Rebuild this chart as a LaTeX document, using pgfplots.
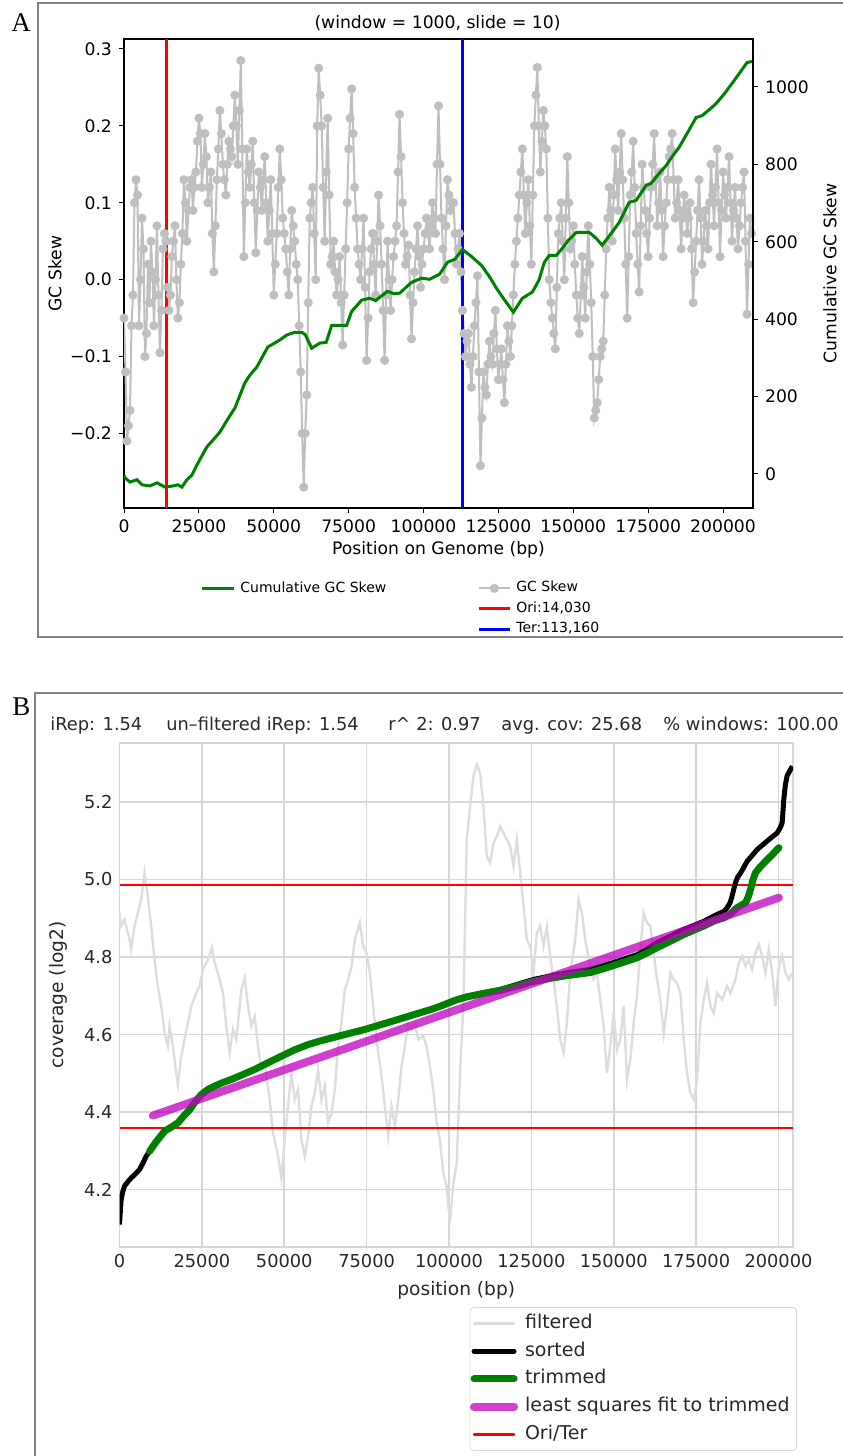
\documentclass[border=0pt]{standalone}
\usepackage{fontspec}
\setmainfont{DejaVu Sans}
\newfontfamily\panelfont{Liberation Serif}
\usepackage{pgfplots}
\usepackage{pgfplotstable}
\pgfplotsset{compat=1.18}

\definecolor{skewgray}{RGB}{191,191,191}
\definecolor{cumgreen}{RGB}{0,128,0}
\definecolor{filtgray}{RGB}{221,221,221}
\definecolor{fitmag}{RGB}{191,0,191}
\definecolor{boxgray}{RGB}{130,130,130}
\definecolor{gridgray}{RGB}{215,215,215}
\definecolor{txtgray}{RGB}{40,40,40}

% GC skew per window (bp, skew)
\pgfplotstableread{
x y
0 -0.05
500 -0.12
1000 -0.21
1500 -0.19
2000 -0.17
2500 -0.06
3000 -0.02
3500 0.10
4000 0.13
4500 0.11
5000 -0.06
5500 0.00
6000 0.08
6500 0.04
7000 -0.10
7500 -0.07
8000 0.02
8500 -0.03
9000 0.05
9500 0.01
10000 -0.06
10500 0.00
11000 0.07
11500 -0.02
12000 -0.095
12500 -0.04
13000 0.04
13500 0.06
14000 0.05
14500 -0.01
15000 -0.04
15500 -0.02
16000 0.03
16500 0.05
17000 0.07
17500 0.00
18000 -0.05
18500 -0.03
19000 0.02
19500 0.06
20000 0.13
20500 0.10
21000 0.05
21500 0.09
22000 0.12
22500 0.13
23000 0.09
23500 0.12
24000 0.14
24500 0.18
25000 0.21
25500 0.19
26000 0.12
26500 0.15
27000 0.19
27500 0.16
28000 0.10
28500 0.12
29000 0.14
29500 0.06
30000 0.01
30500 0.07
31000 0.13
31500 0.17
32000 0.22
32500 0.19
33000 0.15
33500 0.13
34000 0.11
34500 0.15
35000 0.18
35500 0.17
36000 0.16
36500 0.20
37000 0.24
37500 0.20
38000 0.15
38500 0.22
39000 0.285
39500 0.17
40000 0.03
40500 0.10
41000 0.17
41500 0.14
42000 0.12
42500 0.15
43000 0.18
43500 0.10
44000 0.035
44500 0.09
45000 0.14
45500 0.12
46000 0.09
46500 0.13
47000 0.16
47500 0.10
48000 0.05
48500 0.09
49000 0.13
49500 0.06
50000 -0.02
50500 0.02
51000 0.06
51500 0.12
52000 0.17
52500 0.13
53000 0.08
53500 0.06
54000 0.04
54500 0.01
55000 -0.02
55500 0.04
56000 0.09
56500 0.07
57000 0.05
57500 0.02
58000 0.00
58500 -0.06
59000 -0.12
59500 -0.20
60000 -0.27
60500 -0.20
61000 -0.15
61500 -0.03
62000 0.08
62500 0.10
63000 0.12
63500 0.06
64000 0.00
64500 0.20
65000 0.275
65500 0.24
66000 0.20
66500 0.12
67000 0.05
67500 0.14
68000 0.21
68500 0.11
69000 0.02
69500 0.03
70000 0.05
70500 0.01
71000 -0.02
71500 0.00
72000 0.03
72500 -0.03
73000 -0.085
73500 -0.02
74000 0.04
74500 0.10
75000 0.17
75500 0.21
76000 0.248
76500 0.19
77000 0.12
77500 0.08
78000 0.04
78500 0.02
79000 0.00
79500 0.04
80000 0.08
80500 -0.01
81000 -0.105
81500 -0.05
82000 0.01
82500 0.04
83000 0.06
83500 0.02
84000 -0.02
84500 0.05
85000 0.11
85500 0.07
86000 0.02
86500 -0.04
87000 -0.105
87500 -0.02
88000 0.05
88500 0.00
89000 -0.04
89500 0.00
90000 0.03
90500 0.05
91000 0.07
91500 0.14
92000 0.215
92500 0.16
93000 0.10
93500 0.06
94000 0.02
94500 0.03
95000 0.045
95500 -0.02
96000 -0.077
96500 -0.03
97000 0.01
97500 0.04
98000 0.07
98500 0.03
99000 -0.01
99500 0.02
100000 0.04
100500 0.06
101000 0.08
101500 0.06
102000 0.04
102500 0.07
103000 0.10
103500 0.08
104000 0.06
104500 0.15
105000 0.226
105500 0.15
106000 0.08
106500 0.04
107000 0.00
107500 0.07
108000 0.13
108500 0.11
109000 0.09
109500 0.10
110000 0.10
110500 0.06
111000 0.02
111500 0.04
112000 0.06
112500 0.01
113000 -0.04
113500 -0.07
114000 -0.10
114500 -0.08
115000 -0.07
115500 -0.11
116000 -0.14
116500 -0.10
117000 -0.06
117500 -0.03
118000 0.005
118500 -0.12
119000 -0.242
119500 -0.18
120000 -0.12
120500 -0.14
121000 -0.15
121500 -0.11
122000 -0.08
122500 -0.10
123000 -0.11
123500 -0.07
124000 -0.04
124500 -0.09
125000 -0.13
125500 -0.11
126000 -0.09
126500 -0.13
127000 -0.16
127500 -0.11
128000 -0.06
128500 -0.08
129000 -0.10
129500 -0.06
130000 -0.02
130500 0.02
131000 0.05
131500 0.08
132000 0.11
132500 0.14
133000 0.17
133500 0.11
134000 0.06
134500 0.10
135000 0.13
135500 0.07
136000 0.02
136500 0.11
137000 0.20
137500 0.24
138000 0.276
138500 0.20
139000 0.14
139500 0.18
140000 0.22
140500 0.20
141000 0.17
141500 0.08
142000 0.00
142500 -0.03
143000 -0.05
143500 -0.07
144000 -0.09
144500 -0.01
145000 0.06
145500 0.08
146000 0.10
146500 0.05
147000 0.00
147500 0.08
148000 0.16
148500 0.10
149000 0.04
149500 0.05
150000 0.07
150500 0.02
151000 -0.02
151500 -0.05
152000 -0.07
152500 -0.02
153000 0.03
153500 -0.01
154000 -0.05
154500 0.01
155000 0.07
155500 0.02
156000 -0.03
156500 -0.10
157000 -0.18
157500 -0.17
158000 -0.16
158500 -0.13
159000 -0.10
159500 -0.09
160000 -0.08
160500 -0.02
161000 0.04
161500 0.08
162000 0.12
162500 0.09
163000 0.05
163500 0.11
164000 0.17
164500 0.13
165000 0.09
165500 0.14
166000 0.19
166500 0.13
167000 0.08
167500 0.02
168000 -0.05
168500 0.03
169000 0.11
169500 0.14
170000 0.18
170500 0.12
171000 0.06
171500 0.02
172000 -0.016
172500 0.07
173000 0.15
173500 0.12
174000 0.09
174500 0.06
175000 0.03
175500 0.08
176000 0.12
176500 0.15
177000 0.19
177500 0.13
178000 0.07
178500 0.10
179000 0.14
179500 0.09
180000 0.03
180500 0.07
181000 0.10
181500 0.13
182000 0.16
182500 0.17
183000 0.19
183500 0.13
184000 0.08
184500 0.10
185000 0.13
185500 0.09
186000 0.04
186500 0.08
187000 0.11
187500 0.09
188000 0.06
188500 0.08
189000 0.10
189500 0.04
190000 -0.03
190500 0.01
191000 0.05
191500 0.09
192000 0.13
192500 0.08
193000 0.02
193500 0.05
194000 0.09
194500 0.07
195000 0.04
195500 0.10
196000 0.15
196500 0.11
197000 0.07
197500 0.12
198000 0.17
198500 0.10
199000 0.03
199500 0.09
200000 0.14
200500 0.11
201000 0.08
201500 0.12
202000 0.16
202500 0.10
203000 0.05
203500 0.09
204000 0.12
204500 0.08
205000 0.04
205500 0.07
206000 0.10
206500 0.12
207000 0.14
207500 0.05
208000 -0.045
208500 0.02
209000 0.08
209500 0.06
}\gcskew

% cumulative GC skew
\pgfplotstableread{
x y
0 -3
333 -10
2000 -21
4333 -15
6000 -28
8667 -31
11000 -23
13667 -34
16333 -31
18000 -28
19333 -34
21000 -15
22667 -3
24333 23
27667 70
30000 90
32000 108
34500 140
37000 170
40333 235
42000 255
44333 276
48000 328
52000 346
54333 359
57000 366
59333 366
60500 360
62667 325
65333 338
67500 340
69333 384
72000 384
74333 384
76000 420
79333 449
82000 454
84000 448
88000 472
90000 466
92000 467
96000 495
99333 506
102000 503
105333 516
108000 547
110500 555
113000 580
116000 562
119333 539
122000 510
124333 480
127000 450
130000 418
133000 454
136333 470
138500 500
140333 547
142000 565
144333 565
146000 580
148500 605
151000 624
155333 624
157500 610
159667 591
162500 620
165333 650
168667 702
171000 707
174333 746
176000 751
178500 775
181000 797
183000 820
185333 844
188000 880
191000 921
193000 926
195500 942
197667 957
200500 983
203000 1009
205500 1036
208000 1063
209667 1066
}\cumskew

% filtered coverage
\pgfplotstableread{
x y
0 4.914
507 4.880
1520 4.897
3040 4.845
3546 4.819
4560 4.880
5572 4.914
6585 4.948
7598 5.017
8611 4.957
9624 4.880
10637 4.793
11650 4.725
12663 4.673
13676 4.604
14689 4.570
15195 4.621
16208 4.570
17221 4.501
17728 4.471
18741 4.544
19754 4.587
20767 4.630
21780 4.673
23300 4.707
24312 4.725
25325 4.768
26845 4.793
28060 4.824
28871 4.785
29884 4.759
31403 4.707
32416 4.621
33429 4.553
34442 4.613
35455 4.587
36975 4.716
37988 4.746
39001 4.673
40014 4.621
41027 4.647
42040 4.570
43053 4.510
44066 4.527
45585 4.432
46598 4.346
48118 4.286
49131 4.230
50144 4.329
51157 4.415
52170 4.501
53183 4.432
54196 4.458
55209 4.329
56222 4.286
57235 4.338
58248 4.415
59261 4.449
60274 4.510
61287 4.432
62300 4.467
63313 4.372
64326 4.398
65339 4.458
66352 4.570
67365 4.630
68378 4.716
69391 4.742
70404 4.776
71417 4.845
72936 4.888
73949 4.828
74962 4.811
75975 4.759
76988 4.673
78001 4.587
79521 4.492
80534 4.415
81547 4.338
82560 4.415
83573 4.363
84586 4.432
85599 4.518
86612 4.570
87625 4.630
88638 4.613
89651 4.630
90664 4.587
92183 4.596
93196 4.570
94209 4.518
95222 4.458
96235 4.372
97248 4.329
98261 4.243
99274 4.209
100287 4.115
101333 4.217
102346 4.269
103359 4.501
104372 4.673
105385 5.103
106398 5.189
107411 5.266
108424 5.297
109437 5.275
110450 5.189
111463 5.060
112476 5.043
113489 5.094
114502 5.112
115515 5.137
116528 5.120
117541 5.103
118554 5.086
119567 5.034
120580 5.103
121593 5.017
122606 4.931
123619 4.845
124632 4.828
125645 4.759
126658 4.862
127671 4.880
128684 4.828
129697 4.880
130710 4.802
131723 4.742
132736 4.673
133749 4.587
134762 4.553
135775 4.630
136788 4.759
138308 4.845
139321 4.948
140334 4.914
141347 4.845
142866 4.776
143879 4.742
144892 4.759
145905 4.690
146918 4.621
147931 4.501
148944 4.570
149957 4.656
150970 4.561
151983 4.587
152996 4.673
154009 4.484
155022 4.535
156035 4.630
157048 4.699
158061 4.819
159074 4.914
160087 4.888
161100 4.880
162113 4.811
163126 4.742
164139 4.690
165152 4.604
166165 4.673
167178 4.759
168191 4.742
169204 4.733
170217 4.707
171230 4.587
172243 4.501
173256 4.449
174269 4.432
175282 4.484
176295 4.630
177308 4.690
178321 4.733
179334 4.673
180347 4.656
181360 4.707
182880 4.690
184399 4.725
185412 4.707
186932 4.742
187945 4.785
188958 4.802
189971 4.776
190984 4.793
191997 4.768
193010 4.811
194023 4.832
195036 4.802
196049 4.759
197062 4.819
198075 4.759
199088 4.673
200101 4.776
201114 4.802
202127 4.759
203140 4.742
204153 4.759
}\filtered

% sorted coverage
\pgfplotstableread{
x y
0 4.110
300 4.150
500 4.174
1000 4.195
1520 4.209
2500 4.220
3545 4.230
4800 4.240
6080 4.252
7100 4.268
8100 4.286
9120 4.299
11000 4.322
13700 4.351
15500 4.360
17700 4.372
19500 4.390
21300 4.406
23000 4.427
24800 4.445
26800 4.458
28900 4.467
31300 4.476
33900 4.484
37500 4.497
41000 4.510
45000 4.527
49100 4.544
53000 4.560
57200 4.574
60700 4.583
64300 4.591
69300 4.602
74400 4.613
79500 4.626
84600 4.639
89600 4.652
94700 4.665
98300 4.678
101800 4.690
105400 4.699
110500 4.708
115500 4.716
120500 4.729
125600 4.742
130700 4.751
135800 4.759
142900 4.768
147000 4.778
151000 4.789
157050 4.806
160000 4.820
163100 4.837
167000 4.853
171200 4.871
177300 4.892
181400 4.910
183500 4.918
184400 4.927
185300 4.940
185900 4.957
186900 4.991
187600 5.006
188500 5.017
190500 5.047
193500 5.077
197100 5.103
199600 5.120
200600 5.135
201100 5.146
201400 5.180
201600 5.206
202100 5.245
202600 5.267
203400 5.280
204200 5.292
}\sorted

% trimmed coverage
\pgfplotstableread{
x y
9120 4.299
11000 4.322
13700 4.351
15500 4.360
17700 4.372
19500 4.390
21300 4.406
23000 4.427
24800 4.445
26800 4.458
28900 4.467
31300 4.476
33900 4.484
37500 4.497
41000 4.510
45000 4.527
49100 4.544
53000 4.560
57200 4.574
60700 4.583
64300 4.591
69300 4.602
74400 4.613
79500 4.626
84600 4.639
89600 4.652
94700 4.665
98300 4.676
101800 4.688
105400 4.697
110500 4.706
115500 4.714
120500 4.725
125600 4.737
130700 4.745
135800 4.752
142900 4.760
147000 4.770
151000 4.781
157050 4.798
160000 4.810
163100 4.824
167000 4.840
171200 4.858
177300 4.880
181000 4.895
183400 4.901
185500 4.912
187400 4.927
189000 4.935
190000 4.940
190800 4.955
191500 4.974
192200 4.998
193000 5.017
194500 5.033
196100 5.047
198000 5.063
200100 5.082
}\trimmed

\begin{document}
\begin{tikzpicture}
\useasboundingbox (0pt,0pt) rectangle (421pt,728pt);
\draw[boxgray, line width=0.8pt] (19pt,409.5pt) rectangle (440pt,726.5pt);
\draw[boxgray, line width=0.8pt] (17.5pt,-10pt) rectangle (440pt,381.5pt);
\node[anchor=base west, inner sep=0pt, font=\panelfont\fontsize{13.5}{14}\selectfont] at (5.5pt,712pt) {A};
\node[anchor=base west, inner sep=0pt, font=\panelfont\fontsize{13.5}{14}\selectfont] at (6pt,370pt) {B};

% ---- panel A ----
\begin{axis}[
  at={(62pt,474pt)}, anchor=south west,
  width=314.5pt, height=234.5pt, scale only axis,
  xmin=0, xmax=210000, ymin=-0.297, ymax=0.313,
  xtick={0,25000,...,200000},
  ytick={-0.2,-0.1,0,0.1,0.2,0.3},
  yticklabels={−0.2,−0.1,0.0,0.1,0.2,0.3},
  xtick pos=bottom, ytick pos=left,
  tick align=outside, major tick length=2.5pt,
  every tick/.style={black, line width=0.5pt},
  axis line style={black, line width=0.6pt},
  scaled x ticks=false,
  /pgf/number format/fixed,
  /pgf/number format/1000 sep={},
  /pgf/number format/assume math mode=true,
  ticklabel style={font=\fontsize{8.6}{10}\selectfont},
  label style={font=\fontsize{8.6}{10}\selectfont},
  xlabel={Position on Genome (bp)},
  ylabel={GC Skew},
  xlabel style={at={(axis description cs:0.5,-0.0896)}, anchor=center},
  ylabel style={at={(axis description cs:-0.1097,0.5)}, anchor=center},
  legend style={at={(0.5612,-0.2151)}, anchor=west, draw=none, fill=none,
    inner sep=0pt, font=\fontsize{7}{8}\selectfont,
    nodes={inner xsep=2.5pt, inner ysep=0pt, text height=5pt, text depth=1.5pt},
    row sep=3.75pt},
  legend cell align=left,
  legend image code/.code={\draw[#1, mark repeat=2, mark phase=2] plot coordinates {(0pt,0pt) (7.75pt,0pt) (15.5pt,0pt)};},
]
\addplot[skewgray, line width=1pt, mark=*, mark size=1.75pt, mark options={fill=skewgray, draw=skewgray}] table {\gcskew};
\addlegendentry{GC Skew}
\addplot[red, line width=1.5pt] coordinates {(14030,-0.297) (14030,0.313)};
\addlegendentry{Ori:14,030}
\addplot[blue, line width=1.5pt] coordinates {(113160,-0.297) (113160,0.313)};
\addlegendentry{Ter:113,160}
\end{axis}

\begin{axis}[
  at={(62pt,474pt)}, anchor=south west,
  width=314.5pt, height=234.5pt, scale only axis,
  xmin=0, xmax=210000, ymin=-88, ymax=1124,
  axis x line=none, axis y line*=right,
  ytick={0,200,400,600,800,1000},
  tick align=outside, major tick length=2.5pt,
  every tick/.style={black, line width=0.5pt},
  axis line style={black, line width=0.6pt},
  /pgf/number format/fixed,
  /pgf/number format/1000 sep={},
  /pgf/number format/assume math mode=true,
  ticklabel style={font=\fontsize{8.6}{10}\selectfont},
  label style={font=\fontsize{8.6}{10}\selectfont},
  ylabel={Cumulative GC Skew},
  ylabel style={at={(axis description cs:1.1224,0.5)}, anchor=center},
  legend style={at={(0.1208,-0.1724)}, anchor=west, draw=none, fill=none,
    inner sep=0pt, font=\fontsize{7}{8}\selectfont,
    nodes={inner xsep=2.5pt, inner ysep=0pt, text height=5pt, text depth=1.5pt}},
  legend cell align=left,
  legend image code/.code={\draw[#1] (0pt,0pt) -- (16pt,0pt);},
]
\addplot[cumgreen, line width=1.5pt] table {\cumskew};
\addlegendentry{Cumulative GC Skew}
\end{axis}
\node[anchor=base, inner sep=0pt, font=\fontsize{8.6}{10}\selectfont] at (218.75pt,713.5pt) {(window = 1000, slide = 10)};

% ---- panel B ----
\begin{axis}[
  at={(59.75pt,104.5pt)}, anchor=south west,
  width=336.75pt, height=252pt, scale only axis,
  xmin=0, xmax=204400, ymin=4.052, ymax=5.352,
  xtick={0,25000,...,200000},
  ytick={4.2,4.4,4.6,4.8,5.0,5.2},
  grid=major, major grid style={gridgray, line width=0.8pt},
  axis line style={gridgray, line width=0.8pt},
  major tick length=0pt,
  scaled x ticks=false,
  /pgf/number format/fixed,
  /pgf/number format/1000 sep={},
  /pgf/number format/assume math mode=true,
  yticklabel style={/pgf/number format/.cd, fixed, fixed zerofill, precision=1},
  ticklabel style={font=\fontsize{8.9}{10}\selectfont, text=txtgray},
  label style={font=\fontsize{9.3}{11}\selectfont, text=txtgray},
  xlabel={position (bp)},
  ylabel={coverage (log2)},
  xlabel style={at={(axis description cs:0.5,-0.0853)}, anchor=center},
  ylabel style={at={(axis description cs:-0.0913,0.5)}, anchor=center},
  legend style={at={(1.0059,-0.119)}, anchor=north east, draw=gridgray, fill=white,
    rounded corners=2pt, inner xsep=0pt, inner ysep=3.5pt,
    font=\fontsize{9.5}{11}\selectfont, text=txtgray,
    nodes={inner xsep=3.5pt, inner ysep=0pt, text height=7pt, text depth=2pt},
    row sep=4.9pt},
  legend cell align=left,
  legend image code/.code={\draw[#1, line cap=round] (0pt,0pt) -- (20pt,0pt);},
]
\addplot[filtgray, line width=1.2pt] table {\filtered};
\addlegendentry{filtered}
\addplot[red, line width=1.2pt, forget plot] coordinates {(0,4.985) (204400,4.985)};
\addplot[red, line width=1.2pt, forget plot] coordinates {(0,4.359) (204400,4.359)};
\addplot[black, line width=2.5pt, line join=round] table {\sorted};
\addlegendentry{sorted}
\addplot[cumgreen, line width=3.5pt, line join=round, line cap=round] table {\trimmed};
\addlegendentry{trimmed}
\addplot[fitmag, line width=4pt, opacity=0.75, line cap=round] coordinates {(10130,4.391) (200100,4.953)};
\addlegendentry{least squares fit to trimmed}
\addlegendimage{red, line width=1.2pt}
\addlegendentry{Ori/Ter}
\end{axis}
\begin{scope}[every node/.style={anchor=base west, inner sep=0pt, font=\fontsize{8.9}{10}\selectfont, text=txtgray}]
\node at (25pt,362.5pt) {iRep: 1.54};
\node at (83pt,362.5pt) {un–filtered iRep: 1.54};
\node at (194pt,362.5pt) {r\^{} 2: 0.97};
\node at (250.5pt,362.5pt) {avg. cov: 25.68};
\node at (331.5pt,362.5pt) {\% windows: 100.00};
\end{scope}
\end{tikzpicture}
\end{document}
